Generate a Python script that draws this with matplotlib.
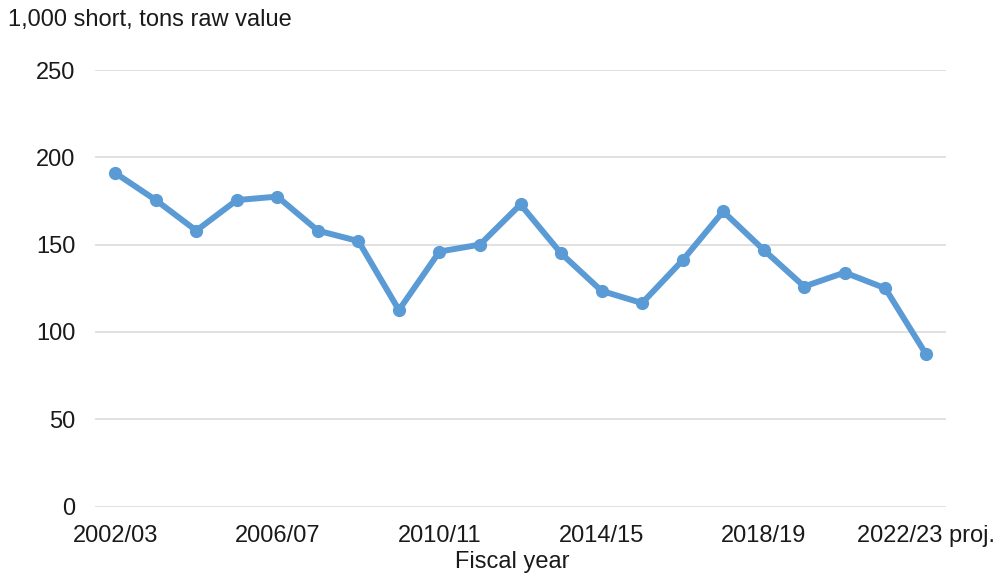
import numpy as np
import matplotlib
matplotlib.use("Agg")
import matplotlib.pyplot as plt

# fiscal years 2002/03 .. 2022/23 (last one projected)
years = ['2002/03', '2003/04', '2004/05', '2005/06', '2006/07', '2007/08', '2008/09',
         '2009/10', '2010/11', '2011/12', '2012/13', '2013/14', '2014/15', '2015/16',
         '2016/17', '2017/18', '2018/19', '2019/20', '2020/21', '2021/22', '2022/23 proj.']
production = [191, 175.5, 158, 175.5, 177.5, 158, 152, 112.5, 146, 150, 173,
              145, 123.5, 116.5, 141, 169, 147, 126, 134, 125, 87.5]
tick_idx = [0, 4, 8, 12, 16, 20]
yticks = [0, 50, 100, 150, 200, 250]

plt.rcParams['font.family'] = ['Liberation Sans', 'DejaVu Sans']
txtcol = '#1a1a1a'

fig = plt.figure(figsize=(9.94, 5.77), dpi=100)
ax = fig.add_axes([95/994, 1-506.5/577, (946-95)/994, (506.5-70)/577])

x = np.arange(len(years))
ax.plot(x, production, color='#5B9BD5', lw=4.3, marker='o', ms=8.5,
        solid_joinstyle='round', zorder=3)

ax.set_xlim(-0.5, len(years)-0.5)
ax.set_ylim(0, 250)
ax.set_yticks(yticks)
ax.set_xticks(tick_idx)
ax.set_xticklabels([years[i] for i in tick_idx])
ax.yaxis.grid(True, color='#d9d9d9', lw=1.1)
ax.set_axisbelow(True)
for s in ax.spines.values():
    s.set_visible(False)
ax.tick_params(axis='both', length=0, labelsize=17, colors=txtcol)
ax.tick_params(axis='y', pad=14)
ax.tick_params(axis='x', pad=13)

ax.set_xlabel('Fiscal year', fontsize=17, color=txtcol)
ax.xaxis.set_label_coords((512-95)/(946-95), -(562-506.5)/(506.5-70))
ax.xaxis.label.set_va('center')
fig.text(8/994, 1-26/577, '1,000 short, tons raw value', fontsize=17,
         color=txtcol, va='baseline', ha='left')

fig.savefig('out.png', dpi=100)
